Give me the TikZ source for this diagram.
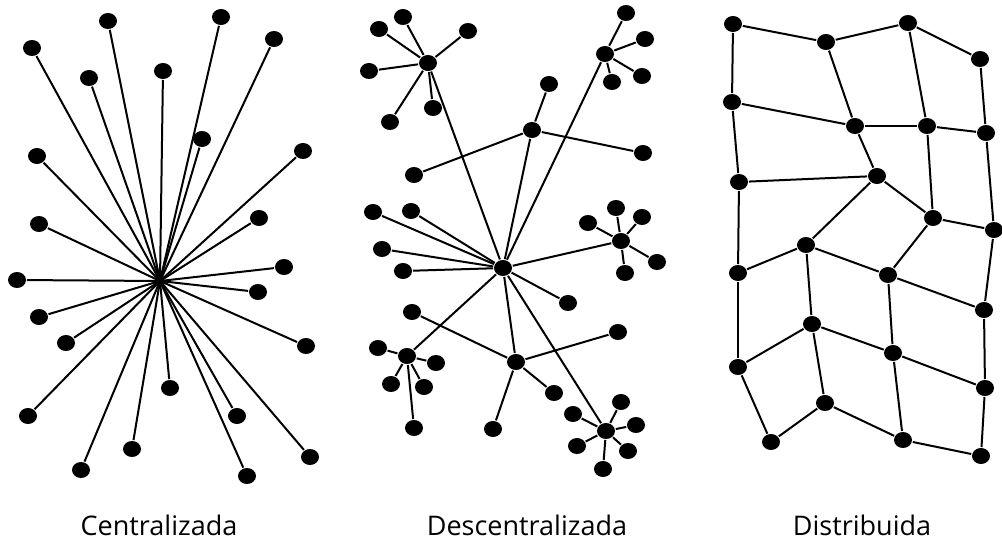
\documentclass[tikz,border=0pt]{standalone}
\usepackage{fontspec}
\setmainfont{Open Sans}
\usetikzlibrary{shapes.geometric}
\begin{document}
\begin{tikzpicture}[x=1pt,y=-1pt,line width=2pt,
    dot/.style={ellipse,fill=black,inner sep=0pt,minimum width=18pt,minimum height=16pt},
    netname/.style={anchor=base,font=\fontsize{27}{32}\selectfont}]
    \useasboundingbox (0,0) rectangle (1002,540);
    % centralizada
    \coordinate (hub) at (160,281);
    \foreach \x/\y [count=\i] in {32/48,108/21,221/17,274/39,89/78,163/71,202/139,37/156,303/151,39/224,259/218,284/267,
        17/280,258/292,39/317,66/343,306/346,170/388,28/416,237/416,132/449,81/470,310/457,247/476}
        {\node[dot] (c\i) at (\x,\y) {}; \draw (hub) -- (c\i);}
    \node[netname] (tc) at (159,535) {Centralizada};
    % descentralizada
    \node[dot] (hA) at (428,63) {};
    \node[dot] (hB) at (605,54) {};
    \node[dot] (hC) at (532,130) {};
    \node[dot] (hD) at (503,268) {};
    \node[dot] (hE) at (621,241) {};
    \node[dot] (hF) at (407,356) {};
    \node[dot] (hG) at (516,362) {};
    \node[dot] (hH) at (606,431) {};
    \foreach \h in {A,B,C,E,F,G,H} \draw (hD) -- (h\h);
    \foreach \x/\y [count=\i] in {403/17,379/29,468/31,369/71,433/108,390/122}
        {\node[dot] (a\i) at (\x,\y) {}; \draw (hA) -- (a\i);}
    \foreach \x/\y [count=\i] in {626/13,645/39,642/76,612/82}
        {\node[dot] (b\i) at (\x,\y) {}; \draw (hB) -- (b\i);}
    \foreach \x/\y [count=\i] in {549/84,414/175,643/153}
        {\node[dot] (k\i) at (\x,\y) {}; \draw (hC) -- (k\i);}
    \foreach \x/\y [count=\i] in {373/212,411/211,382/249,403/271,568/303}
        {\node[dot] (m\i) at (\x,\y) {}; \draw (hD) -- (m\i);}
    \foreach \x/\y [count=\i] in {588/223,616/208,642/217,657/262,625/273}
        {\node[dot] (e\i) at (\x,\y) {}; \draw (hE) -- (e\i);}
    \foreach \x/\y [count=\i] in {378/348,436/363,391/384,424/387,414/428}
        {\node[dot] (f\i) at (\x,\y) {}; \draw (hF) -- (f\i);}
    \foreach \x/\y [count=\i] in {412/312,618/332,554/393,493/429}
        {\node[dot] (g\i) at (\x,\y) {}; \draw (hG) -- (g\i);}
    \foreach \x/\y [count=\i] in {573/414,621/402,636/425,628/451,577/446,603/469}
        {\node[dot] (p\i) at (\x,\y) {}; \draw (hH) -- (p\i);}
    \node[netname] (td) at (527,535) {Descentralizada};
    % distribuida
    \foreach \x/\y [count=\i] in {733/24,826/42,908/23,980/59,732/102,855/126,927/126,986/133,739/182,877/176,933/218,994/230,
        806/245,738/273,888/275,984/310,812/324,738/367,893/353,985/388,825/403,771/442,903/440,981/456}
        \node[dot] (d\i) at (\x,\y) {};
    \foreach \a/\b in {1/2,2/3,3/4,1/5,2/6,3/7,4/8,5/6,6/7,7/8,5/9,6/10,9/10,7/11,8/12,10/11,10/13,11/12,
        9/14,13/14,13/15,11/15,12/16,15/16,13/17,14/18,17/18,15/19,17/19,16/20,19/20,17/21,18/22,21/22,21/23,19/23,20/24,23/24}
        \draw (d\a) -- (d\b);
    \node[netname] (tr) at (862,535) {Distribuida};
\end{tikzpicture}
\end{document}
